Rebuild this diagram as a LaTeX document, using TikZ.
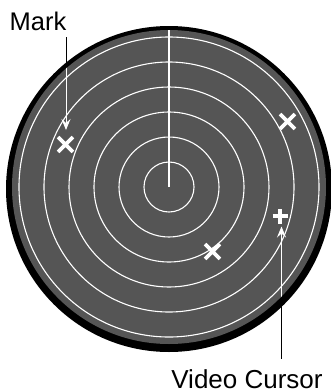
\documentclass[tikz,border=0pt]{standalone}
\usepackage{fontspec}
\setmainfont{Liberation Sans}
\usetikzlibrary{arrows.meta,positioning,shapes.misc}
\definecolor{scopeGray}{HTML}{555555}

\begin{document}
\begin{tikzpicture}[x=1pt,y=-1pt,>={Stealth[length=11pt,width=9pt,inset=4pt]},
  ring/.style={white,line width=1.1pt},
  xmark/.style={draw=white,cross out,line width=3.8pt,minimum size=11pt,inner sep=0pt},
  lbl/.style={inner sep=0pt,anchor=base}]
\useasboundingbox (0,0) rectangle (331,392);
% labels and the outer parts of the pointers
\node[lbl,font=\fontsize{25.5}{25.5}\selectfont] (mark) at (38,30.7) {Mark};
\node[lbl,font=\fontsize{26}{26}\selectfont] (cursor) at (247,388) {Video Cursor};
\coordinate (markTip) at (66,130);
\coordinate (cursorTip) at (281.5,226.5);
\draw[line width=0.9pt] ([yshift=-6pt]mark.south -| markTip) -- (markTip);
\draw[line width=0.9pt] ([yshift=10pt]cursor.north -| cursorTip) -- (cursorTip);
% scope face
\fill[black] (169,189) circle[radius=163];
\fill[scopeGray] (169,187) coordinate (c) circle[radius=157];
\foreach \r in {25,50,...,150}
  \draw[ring] (c) circle[radius=\r];
\coordinate (top) at (169,30);
\draw[ring] (c) -- (top);
% marks
\node[xmark] (m1) at (65.5,144.5) {};
\node[xmark] (m2) at (287.5,121.5) {};
\node[xmark] (m3) at (212.5,251.5) {};
% video cursor
\coordinate (vc) at (280,216);
\draw[white,line width=3.8pt] ([xshift=-7.5pt]vc) -- ([xshift=7.5pt]vc)
  ([yshift=-7.5pt]vc) -- ([yshift=7.5pt]vc);
% inner parts of the pointers
\begin{scope}
\clip (c) circle[radius=157];
\draw[->,white,line width=0.9pt] ([yshift=-6pt]mark.south -| markTip) -- (markTip);
\draw[->,white,line width=0.9pt] ([yshift=10pt]cursor.north -| cursorTip) -- (cursorTip);
\end{scope}
\end{tikzpicture}
\end{document}
